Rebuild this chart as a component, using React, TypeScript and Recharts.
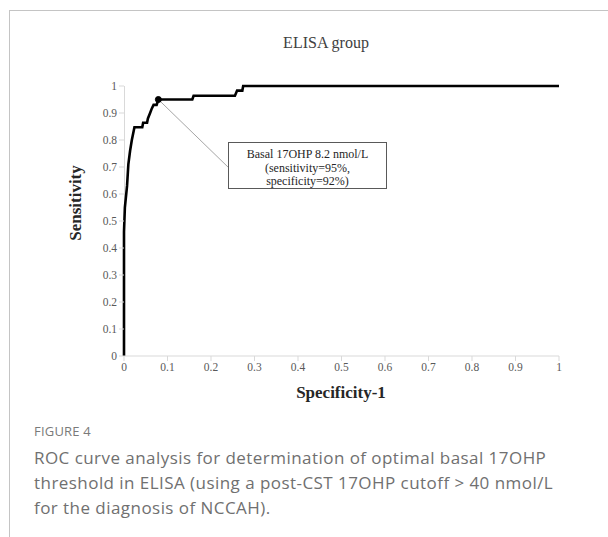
import { LineChart, Line, XAxis, YAxis, ReferenceDot, ReferenceLine, Label } from "recharts";

// ROC curve points (1 - specificity, sensitivity)
const fpr = [0, 0, 0.002, 0.007, 0.01, 0.014, 0.018, 0.024, 0.042, 0.044, 0.053, 0.055, 0.06, 0.064, 0.068, 0.075, 0.079, 0.157, 0.16, 0.255, 0.26, 0.272, 0.274, 1];
const tpr = [0, 0.46, 0.55, 0.63, 0.71, 0.76, 0.8, 0.847, 0.847, 0.864, 0.864, 0.88, 0.9, 0.917, 0.93, 0.93, 0.95, 0.95, 0.964, 0.964, 0.983, 0.983, 1, 1];

const axisTicks = [0, 0.1, 0.2, 0.3, 0.4, 0.5, 0.6, 0.7, 0.8, 0.9, 1];

// optimal cut-off point and where its callout line ends
const cutoff = { x: 0.079, y: 0.95 };
const calloutEnd = { x: 0.239, y: 0.7 };
const calloutLines = ["Basal 17OHP 8.2 nmol/L", "(sensitivity=95%,", "specificity=92%)"];

const captionLines = [
  "ROC curve analysis for determination of optimal basal 17OHP",
  "threshold in ELISA (using a post-CST 17OHP cutoff > 40 nmol/L",
  "for the diagnosis of NCCAH).",
];

const data = fpr.map((x, i) => ({ fpr: x, tpr: tpr[i] }));

const serif = "'Liberation Serif', 'Times New Roman', serif";
const tickStyle = { fontSize: 11.5, fill: "#595959", fontFamily: serif };

const App = () => {
  return (
    <div style={{ position: "absolute", left: 0, top: 0, width: 608, height: 537, background: "#fff" }}>
      <div
        style={{
          position: "absolute",
          left: 9,
          top: 10,
          right: 0,
          bottom: 0,
          borderLeft: "1px solid #c4c4c4",
          borderTop: "1px solid #c4c4c4",
        }}
      />

      <div
        style={{
          position: "absolute",
          left: 226,
          width: 200,
          top: 34,
          textAlign: "center",
          fontFamily: serif,
          fontSize: 16,
          color: "#404040",
        }}
      >
        ELISA group
      </div>

      {/* y axis line sits behind the curve */}
      <div style={{ position: "absolute", left: 123.5, top: 86, width: 1, height: 270, background: "#d9d9d9" }} />

      <div style={{ position: "absolute", left: 0, top: 0 }}>
        <LineChart width={608} height={410} data={data} margin={{ top: 86, right: 49, left: 84, bottom: 0 }}>
          <XAxis
            type="number"
            dataKey="fpr"
            domain={[0, 1]}
            ticks={axisTicks}
            tickFormatter={(v) => String(v)}
            stroke="#d9d9d9"
            tick={tickStyle}
            tickSize={5}
            height={54}
          >
            <Label
              content={() => (
                <text x={341} y={398} textAnchor="middle" fontFamily={serif} fontSize={17} fontWeight="bold" fill="#262626">
                  Specificity-1
                </text>
              )}
            />
          </XAxis>
          <YAxis
            type="number"
            domain={[0, 1]}
            ticks={axisTicks}
            tickFormatter={(v) => String(v)}
            stroke="#d9d9d9"
            axisLine={false}
            tick={tickStyle}
            tickSize={5}
            width={40}
          >
            <Label
              content={() => (
                <text
                  x={81}
                  y={203}
                  transform="rotate(-90 81 203)"
                  textAnchor="middle"
                  fontFamily={serif}
                  fontSize={17}
                  fontWeight="bold"
                  fill="#262626"
                >
                  Sensitivity
                </text>
              )}
            />
          </YAxis>
          <ReferenceLine
            segment={[cutoff, calloutEnd]}
            stroke="#a6a6a6"
            strokeWidth={1}
            ifOverflow="visible"
          />
          <Line
            type="linear"
            dataKey="tpr"
            stroke="#000"
            strokeWidth={2.6}
            dot={false}
            isAnimationActive={false}
          />
          <ReferenceDot x={cutoff.x} y={cutoff.y} r={3} fill="#000" stroke="#000" />
        </LineChart>
      </div>

      <div
        style={{
          position: "absolute",
          left: 228,
          top: 142,
          width: 159,
          height: 47,
          boxSizing: "border-box",
          border: "1px solid #595959",
          background: "#fff",
          fontFamily: serif,
          fontSize: 12,
          lineHeight: "13.5px",
          color: "#262626",
          textAlign: "center",
          paddingTop: 5,
        }}
      >
        {calloutLines.map((t) => (
          <div key={t}>{t}</div>
        ))}
      </div>

      <div
        style={{
          position: "absolute",
          left: 34,
          top: 422,
          fontFamily: "'Open Sans', sans-serif",
          fontSize: 13,
          color: "#7a7a7a",
          letterSpacing: 0.2,
        }}
      >
        FIGURE 4
      </div>
      <div
        style={{
          position: "absolute",
          left: 34,
          top: 445,
          fontFamily: "'Open Sans', sans-serif",
          fontSize: 17,
          lineHeight: "25px",
          color: "#707070",
          letterSpacing: 0.45,
          whiteSpace: "nowrap",
        }}
      >
        {captionLines.map((t) => (
          <div key={t}>{t}</div>
        ))}
      </div>
    </div>
  );
};

export default App;
